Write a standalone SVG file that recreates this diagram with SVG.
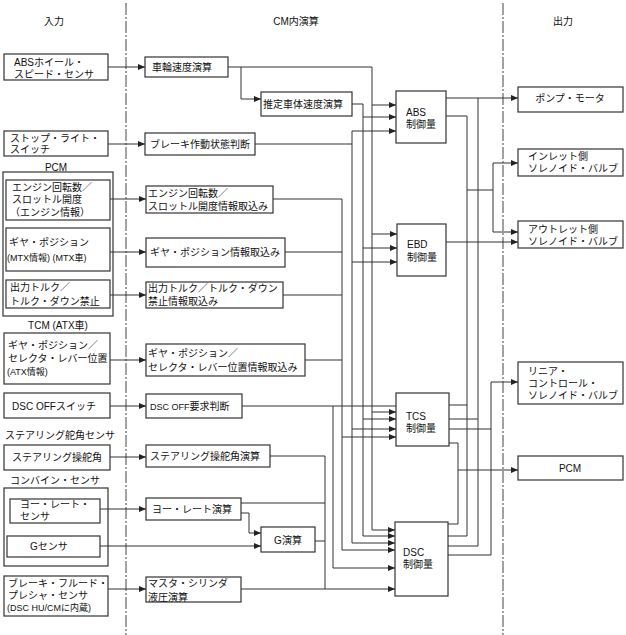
<svg xmlns="http://www.w3.org/2000/svg" width="626" height="635" viewBox="0 0 626 635">
<defs>
<marker id="ah" markerWidth="8" markerHeight="6" refX="7" refY="3" orient="auto" markerUnits="userSpaceOnUse">
<path d="M0,0 L7,3 L0,6 z" fill="#222"/>
</marker>
<style>
rect{fill:#fff;stroke:#333;stroke-width:1.2}
text{font-family:"Liberation Sans","Noto Sans CJK JP",sans-serif;font-size:10px;fill:#111}
.c{text-anchor:middle}
.s{font-size:9px}
#connectors path{fill:none;stroke:#333;stroke-width:1}
.a{marker-end:url(#ah)}
.sep{stroke:#444;stroke-width:1;stroke-dasharray:12 2 2 2;fill:none}
</style>
</defs>
<rect x="0" y="0" width="626" height="635" style="fill:#fff;stroke:none"/>
<line class="sep" x1="126" y1="3" x2="126" y2="635"/>
<line class="sep" x1="503" y1="3" x2="503" y2="635"/>
<text class="c" x="54" y="25">入力</text>
<text class="c" x="296" y="25">CM内演算</text>
<text class="c" x="563" y="25">出力</text>

<g id="in-abs"><rect x="4" y="54" width="104" height="26"/><text x="14" y="65.5">ABSホイール・</text><text x="14" y="77.5">スピード・センサ</text></g>
<g id="in-stop"><rect x="4" y="131" width="104" height="25"/><text x="10" y="141.5">ストップ・ライト・</text><text x="10" y="152.5">スイッチ</text></g>
<g id="in-pcm"><text class="c" x="56" y="171">PCM</text><rect x="3" y="172" width="110" height="144"/>
<g id="in-engine"><rect x="6" y="180" width="104" height="40"/><text x="12" y="190.5">エンジン回転数／</text><text x="12" y="203">スロットル開度</text><text x="10" y="215.5">（エンジン情報）</text></g>
<g id="in-gear"><rect x="6" y="228" width="104" height="43"/><text x="9" y="245.5">ギヤ・ポジション</text><text class="s" x="7" y="260.5">(MTX情報) (MTX車)</text></g>
<g id="in-torque"><rect x="6" y="280" width="104" height="28"/><text x="10" y="291">出力トルク／</text><text x="10" y="304.5">トルク・ダウン禁止</text></g>
</g>
<g id="in-tcm"><text class="c" x="58" y="329">TCM (ATX車)</text><rect x="4" y="333" width="106" height="51"/><text x="8" y="349">ギヤ・ポジション／</text><text x="8" y="362">セレクタ・レバー位置</text><text class="s" x="7" y="375">(ATX情報)</text></g>
<g id="in-dscoff"><rect x="4" y="393" width="106" height="25"/><text x="12" y="410">DSC OFFスイッチ</text></g>
<g id="in-steer"><text x="5" y="439">ステアリング舵角センサ</text><rect x="4" y="445" width="106" height="25"/><text x="12" y="461">ステアリング操舵角</text></g>
<g id="in-combine"><text x="10" y="484">コンバイン・センサ</text><rect x="4" y="488" width="104" height="78"/>
<g id="in-yaw"><rect x="10" y="499" width="90" height="24"/><text x="20" y="508">ヨー・レート・</text><text x="20" y="520">センサ</text></g>
<g id="in-g"><rect x="7" y="536" width="93" height="21"/><text x="30" y="550">Gセンサ</text></g>
</g>
<g id="in-fluid"><rect x="4" y="576" width="104" height="40"/><text x="8" y="586.5">ブレーキ・フルード・</text><text x="8" y="598.5">プレシャ・センサ</text><text class="s" x="7" y="611">(DSC HU/CMに内蔵)</text></g>

<g id="m-wheel"><rect x="145" y="57" width="83" height="20"/><text x="152" y="71">車輪速度演算</text></g>
<g id="m-est"><rect x="261" y="92" width="91" height="24"/><text x="263" y="108">推定車体速度演算</text></g>
<g id="m-brake"><rect x="145" y="133" width="110" height="22"/><text x="150" y="148">ブレーキ作動状態判断</text></g>
<g id="m-engine"><rect x="146" y="186" width="127" height="27"/><text x="148" y="196.5">エンジン回転数／</text><text x="148" y="210">スロットル開度情報取込み</text></g>
<g id="m-gear"><rect x="146" y="238" width="139" height="29"/><text x="150" y="256">ギヤ・ポジション情報取込み</text></g>
<g id="m-torque"><rect x="146" y="282" width="137" height="26"/><text x="148" y="291.5">出力トルク／トルク・ダウン</text><text x="148" y="305">禁止情報取込み</text></g>
<g id="m-select"><rect x="146" y="344" width="159" height="32"/><text x="148" y="357">ギヤ・ポジション／</text><text x="148" y="371">セレクタ・レバー位置情報取込み</text></g>
<g id="m-dscoff"><rect x="146" y="394" width="96" height="24"/><text class="s" x="150" y="410">DSC OFF<tspan font-size="10">要求判断</tspan></text></g>
<g id="m-steer"><rect x="146" y="445" width="124" height="22"/><text x="150" y="460">ステアリング操舵角演算</text></g>
<g id="m-yaw"><rect x="146" y="498" width="95" height="22"/><text x="152" y="513">ヨー・レート演算</text></g>
<g id="m-g"><rect x="261" y="527" width="54" height="25"/><text class="c" x="288" y="544">G演算</text></g>
<g id="m-master"><rect x="146" y="577" width="95" height="25"/><text x="148" y="587">マスタ・シリンダ</text><text x="148" y="601">液圧演算</text></g>

<g id="abs"><rect x="396" y="91" width="50" height="52"/><text x="406" y="115.5">ABS</text><text x="406" y="128">制御量</text></g>
<g id="ebd"><rect x="397" y="224" width="49" height="52"/><text x="407" y="248">EBD</text><text x="407" y="261">制御量</text></g>
<g id="tcs"><rect x="396" y="393" width="53" height="53"/><text x="406" y="420">TCS</text><text x="406" y="432">制御量</text></g>
<g id="dsc"><rect x="395" y="522" width="53" height="74"/><text x="403" y="556">DSC</text><text x="403" y="568">制御量</text></g>

<g id="o-pump"><rect x="518" y="87" width="105" height="25"/><text class="c" x="570" y="102">ポンプ・モータ</text></g>
<g id="o-inlet"><rect x="518" y="149" width="105" height="27"/><text x="528" y="160">インレット側</text><text x="528" y="172">ソレノイド・バルブ</text></g>
<g id="o-outlet"><rect x="518" y="221" width="105" height="27"/><text x="528" y="233">アウトレット側</text><text x="528" y="245">ソレノイド・バルブ</text></g>
<g id="o-linear"><rect x="518" y="362" width="105" height="42"/><text x="528" y="374.5">リニア・</text><text x="528" y="386.5">コントロール・</text><text x="528" y="398.5">ソレノイド・バルブ</text></g>
<g id="o-pcm"><rect x="518" y="456" width="105" height="24"/><text class="c" x="570" y="472">PCM</text></g>

<g id="connectors">
<path class="a" d="M108,67 H145"/>
<path class="a" d="M108,144 H145"/>
<path class="a" d="M110,199 H146"/>
<path class="a" d="M110,252 H146"/>
<path class="a" d="M110,295 H146"/>
<path class="a" d="M110,360 H146"/>
<path class="a" d="M110,406 H146"/>
<path class="a" d="M110,457 H146"/>
<path class="a" d="M100,509 H146"/>
<path class="a" d="M100,546 H261"/>
<path class="a" d="M108,589 H146"/>

<path class="a" d="M241,67 V99 H261"/>
<path class="a" d="M228,67 H372 V530 H395"/>
<path class="a" d="M372,105 H396"/>
<path class="a" d="M372,234 H397"/>
<path class="a" d="M372,412 H396"/>
<path class="a" d="M352,104 H363 V536 H395"/>
<path class="a" d="M363,117 H396"/>
<path class="a" d="M363,248 H397"/>
<path class="a" d="M363,419 H396"/>
<path d="M255,144 H352"/>
<path class="a" d="M352,131 V543 H395"/>
<path class="a" d="M352,131 H396"/>
<path class="a" d="M352,262 H397"/>
<path class="a" d="M352,429 H396"/>
<path class="a" d="M273,199 H342 V550 H395"/>
<path d="M285,252 H342"/>
<path d="M283,295 H342"/>
<path d="M305,360 H342"/>
<path class="a" d="M342,437 H396"/>
<path d="M242,406 H396"/>
<path class="a" d="M333,406 V568 H395"/>
<path d="M270,456 H325 V589"/>
<path d="M241,503 H325"/>
<path d="M315,541 H325"/>
<path class="a" d="M241,589 H395"/>
<path class="a" d="M241,513 H249 V533 H261"/>

<path class="a" d="M446,98 H518"/>
<path d="M478,98 V546 H448"/>
<path d="M449,419 H478"/>
<path d="M446,116 H467 V536 H448"/>
<path d="M449,405 H467"/>
<path d="M467,190 H493"/>
<path class="a" d="M493,190 V163 H518"/>
<path class="a" d="M493,190 V232 H518"/>
<path class="a" d="M446,242 H518"/>
<path d="M449,429 H491"/>
<path class="a" d="M448,555 H491 V382 H518"/>
<path d="M449,443 H458 V524 H448"/>
<path class="a" d="M458,470 H518"/>
</g>
</svg>
